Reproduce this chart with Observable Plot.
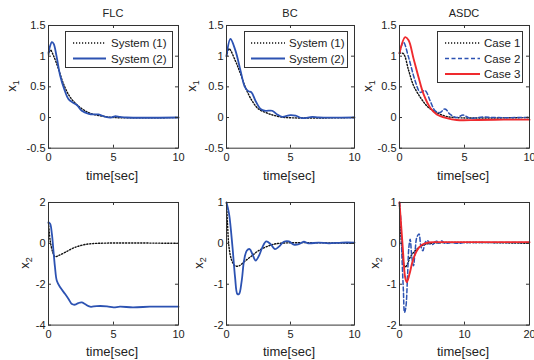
<!DOCTYPE html>
<html><head><meta charset="utf-8">
<script src="https://cdn.jsdelivr.net/npm/d3@7"></script>
<script src="https://cdn.jsdelivr.net/npm/@observablehq/plot@0.6"></script>
<style>
body{margin:0;background:#fff;}
#c{position:relative;width:534px;height:360px;overflow:hidden;background:#fff;font-family:"Liberation Sans",Arial,Helvetica,sans-serif;color:#222;}
.abs{position:absolute;}
.ctr{position:absolute;transform:translate(-50%,-50%);white-space:nowrap;line-height:1;}
.ylab{position:absolute;transform:translate(-50%,-50%) rotate(-90deg);white-space:nowrap;line-height:1;font-size:13px;}
.ylab sub{font-size:9px;vertical-align:-3px;}
</style></head>
<body><div id="c"></div>
<script>
// ---------- data ----------
const titles = ["FLC", "BC", "ASDC"];
const xLabel = "time[sec]";
const legendSystems = ["System (1)", "System (2)"];
const legendCases = ["Case 1", "Case 2", "Case 3"];

const ticksX10 = [0, 5, 10];
const ticksX20 = [0, 10, 20];
const ticksYTop = [-0.5, 0, 0.5, 1, 1.5];
const ticksYFlc2 = [-4, -2, 0, 2];
const ticksYBc2 = [-2, -1, 0, 1];

// FLC x1
const flcX1Sys1T = [0, 0.15, 0.4, 0.77, 1.15, 1.67, 2.4, 3.2, 4.2, 5, 10];
const flcX1Sys1  = [1.02, 1.1, 1.0, 0.79, 0.55, 0.33, 0.17, 0.07, 0.02, 0, 0];
const flcX1Sys2T = [0, 0.1, 0.26, 0.4, 0.6, 0.9, 1.2, 1.54, 1.9, 2.2, 2.56, 3.1, 3.5, 3.85, 4.4, 4.8, 5.1, 5.5, 6, 10];
const flcX1Sys2  = [1.05, 1.15, 1.23, 1.2, 1.02, 0.68, 0.47, 0.3, 0.24, 0.2, 0.11, 0.06, 0.05, 0.05, 0.01, 0.0, 0.02, 0.01, 0, 0];
// BC x1
const bcX1Sys1T = [0, 0.2, 0.7, 1.1, 1.48, 2.0, 2.5, 3.2, 3.8, 4.6, 10];
const bcX1Sys1  = [1.0, 1.12, 0.92, 0.71, 0.49, 0.27, 0.14, 0.07, 0.03, 0.0, 0];
const bcX1Sys2T = [0, 0.31, 0.7, 1.1, 1.43, 1.7, 1.95, 2.27, 2.66, 3.05, 3.57, 3.96, 4.35, 5.0, 5.4, 5.9, 6.7, 7.2, 10];
const bcX1Sys2  = [1.0, 1.28, 1.09, 0.76, 0.5, 0.43, 0.41, 0.27, 0.14, 0.11, 0.11, 0.05, 0.01, 0.04, 0.03, -0.01, 0.01, 0, 0];
// ASDC x1
const asX1C1T = [0, 0.3, 0.7, 1.08, 1.6, 2.1, 2.6, 3.4, 4.2, 10];
const asX1C1  = [1.05, 1.04, 0.77, 0.52, 0.33, 0.19, 0.11, 0.03, 0, 0];
const asX1C2T = [0, 0.3, 0.7, 1.2, 1.6, 1.97, 2.36, 2.74, 3.1, 3.5, 3.9, 4.4, 4.9, 5.4, 6.5, 7.2, 10];
const asX1C2  = [1.05, 1.23, 0.98, 0.6, 0.41, 0.44, 0.27, 0.11, 0.08, 0.14, 0.05, 0, 0.04, -0.01, 0.01, 0, 0];
const asX1C3T = [0, 0.44, 0.7, 1.08, 1.46, 1.85, 2.36, 2.87, 3.64, 4.4, 6, 8, 10];
const asX1C3  = [1.05, 1.31, 1.26, 0.96, 0.66, 0.38, 0.16, 0.05, -0.01, -0.04, -0.04, -0.035, -0.035];
// FLC x2
const flcX2Sys1T = [0, 0.13, 0.33, 0.5, 0.77, 1.28, 1.9, 2.7, 3.7, 10];
const flcX2Sys1  = [1.0, 0.13, -0.44, -0.65, -0.6, -0.44, -0.23, -0.07, 0, 0];
const flcX2Sys2T = [0, 0.13, 0.26, 0.38, 0.5, 0.64, 0.9, 1.28, 1.54, 1.8, 2.05, 2.3, 2.56, 2.8, 3.2, 3.7, 4.5, 5, 5.5, 6.5, 7.8, 8.6, 10];
const flcX2Sys2  = [1.03, 0.95, 0.46, -0.36, -1.17, -1.83, -2.15, -2.48, -2.72, -2.97, -3.0, -2.92, -2.89, -2.97, -3.1, -3.07, -3.08, -3.13, -3.1, -3.13, -3.1, -3.1, -3.1];
// BC x2
const bcX2Sys1T = [0, 0.08, 0.2, 0.41, 0.67, 0.98, 1.5, 2.0, 2.5, 3.3, 4.1, 10];
const bcX2Sys1  = [1.0, 0.47, -0.1, -0.42, -0.55, -0.55, -0.42, -0.3, -0.18, -0.06, 0, 0];
const bcX2Sys2T = [0, 0.2, 0.47, 0.67, 0.85, 0.98, 1.19, 1.37, 1.58, 1.81, 2.02, 2.28, 2.54, 2.8, 3.1, 3.45, 3.78, 4.1, 4.48, 4.87, 5.26, 5.65, 6.04, 6.4, 7.2, 8, 9, 10];
const bcX2Sys2  = [1.0, 0.72, -0.1, -0.83, -1.24, -1.24, -0.91, -0.42, -0.18, -0.14, -0.26, -0.42, -0.3, -0.1, 0.05, -0.02, -0.14, -0.08, 0.04, 0.05, -0.03, -0.02, 0.04, 0, 0.02, 0, 0.02, 0.02];
// ASDC x2
const asX2C1T = [0, 0.1, 0.36, 0.6, 0.87, 1.23, 1.64, 2.4, 3.4, 4.7, 20];
const asX2C1  = [1.0, 0.47, -0.1, -0.46, -0.58, -0.5, -0.34, -0.18, -0.06, 0, 0];
const asX2C2T = [0, 0.2, 0.36, 0.6, 0.77, 0.97, 1.23, 1.44, 1.64, 1.9, 2.15, 2.4, 2.67, 3.0, 3.28, 3.6, 3.95, 4.3, 4.7, 5.2, 5.64, 6, 6.5, 7, 8, 9, 10, 12, 14, 16, 18, 20];
const asX2C2  = [1.0, 0.55, -0.26, -1.16, -1.69, -1.57, -0.83, -0.1, 0.1, -0.34, -0.55, -0.18, 0.15, 0.23, -0.06, -0.18, 0.02, 0.07, -0.02, -0.02, 0.07, 0, 0.06, 0, 0.02, 0, 0.02, 0.02, 0.02, 0.02, 0.02, 0.02];
const asX2C3T = [0, 0.2, 0.5, 0.87, 1.13, 1.54, 2.05, 2.67, 3.4, 4.46, 5.7, 7.8, 20];
const asX2C3  = [1.0, 0.55, -0.1, -0.83, -0.95, -0.75, -0.42, -0.18, -0.04, 0.02, 0.03, 0.03, 0.03];

// ---------- styles ----------
const BLUE = "#2c52b2", RED = "#ef2a2e", BLACK = "#111";
const ST = {
  dot:  {stroke: BLACK, strokeWidth: 1.4, strokeDasharray: "1.2,1.8"},
  blue: {stroke: BLUE, strokeWidth: 1.8},
  dash: {stroke: BLUE, strokeWidth: 1.5, strokeDasharray: "4,2.5"},
  red:  {stroke: RED, strokeWidth: 1.9}
};

const panels = [
  {fx: 48,  fy: 25,    fw: 130, fh: 122.7, xd: [0,10], xt: ticksX10, yd: [-0.5,1.5], yt: ticksYTop, yl: 1, ylx: 13,
   lines: [[flcX1Sys1T, flcX1Sys1, "dot"], [flcX1Sys2T, flcX1Sys2, "blue"]]},
  {fx: 226, fy: 25,    fw: 128, fh: 122.7, xd: [0,10], xt: ticksX10, yd: [-0.5,1.5], yt: ticksYTop, yl: 1, ylx: 193,
   lines: [[bcX1Sys1T, bcX1Sys1, "dot"], [bcX1Sys2T, bcX1Sys2, "blue"]]},
  {fx: 399, fy: 25,    fw: 130, fh: 122.7, xd: [0,10], xt: ticksX10, yd: [-0.5,1.5], yt: ticksYTop, yl: 1, ylx: 369,
   lines: [[asX1C1T, asX1C1, "dot"], [asX1C2T, asX1C2, "dash"], [asX1C3T, asX1C3, "red"]]},
  {fx: 48,  fy: 201.7, fw: 130, fh: 122.6, xd: [0,10], xt: ticksX10, yd: [-4,2], yt: ticksYFlc2, yl: 2, ylx: 26,
   lines: [[flcX2Sys1T, flcX2Sys1, "dot"], [flcX2Sys2T, flcX2Sys2, "blue"]]},
  {fx: 226, fy: 201.7, fw: 128, fh: 122.6, xd: [0,10], xt: ticksX10, yd: [-2,1], yt: ticksYBc2, yl: 2, ylx: 200,
   lines: [[bcX2Sys1T, bcX2Sys1, "dot"], [bcX2Sys2T, bcX2Sys2, "blue"]]},
  {fx: 399, fy: 201.7, fw: 130, fh: 122.6, xd: [0,20], xt: ticksX20, yd: [-2,1], yt: ticksYBc2, yl: 2, ylx: 376,
   lines: [[asX2C1T, asX2C1, "dot"], [asX2C2T, asX2C2, "dash"], [asX2C3T, asX2C3, "red"]]}
];

const root = document.getElementById("c");
const rows = (t, v) => t.map((ti, i) => ({t: ti, v: v[i]}));
const fmt = d => String(d);

function addDiv(cls, html, x, y, css) {
  const d = document.createElement("div");
  d.className = cls; d.innerHTML = html;
  d.style.left = x + "px"; d.style.top = y + "px";
  Object.assign(d.style, css || {});
  root.appendChild(d);
}

panels.forEach((p, i) => {
  const mL = 48, mR = 12, mT = 4, mB = 18;
  const plot = Plot.plot({
    width: mL + p.fw + mR, height: mT + p.fh + mB,
    marginLeft: mL, marginRight: mR, marginTop: mT, marginBottom: mB,
    style: {background: "transparent", fontFamily: "Liberation Sans, Arial, sans-serif", fontSize: "11px", color: "#222", overflow: "visible"},
    x: {domain: p.xd, label: null},
    y: {domain: p.yd, label: null},
    marks: [
      ...p.lines.map(([t, v, s]) => Plot.line(rows(t, v), {x: "t", y: "v", curve: "catmull-rom", ...ST[s]})),
      Plot.frame({stroke: "#333", strokeWidth: 1}),
      Plot.axisX(p.xt, {tickSize: 0, tickPadding: 5, tickFormat: fmt, label: null}),
      Plot.axisY(p.yt, {tickSize: 0, tickPadding: 3, tickFormat: fmt, label: null}),
      Plot.tickX(p.xt, {x: d => d, insetTop: p.fh - 3, stroke: "#333"}),
      Plot.tickX(p.xt, {x: d => d, insetBottom: p.fh - 3, stroke: "#333"}),
      Plot.tickY(p.yt, {y: d => d, insetLeft: p.fw - 3, stroke: "#333"}),
      Plot.tickY(p.yt, {y: d => d, insetRight: p.fw - 3, stroke: "#333"})
    ]
  });
  plot.style.position = "absolute";
  plot.style.left = (p.fx - mL) + "px";
  plot.style.top = (p.fy - mT) + "px";
  root.appendChild(plot);

  const cx = p.fx + p.fw / 2;
  if (i < 3) addDiv("ctr", titles[i], cx, 13, {fontSize: "11px"});
  addDiv("ctr", xLabel, cx - 1, p.fy + p.fh + 27, {fontSize: "13px"});
  addDiv("ylab", `x<sub>${p.yl}</sub>`, p.ylx, p.fy + p.fh / 2);
});

// ---------- legends ----------
function legend(x, y, w, labels, styles, lineX0, lineX1, textX) {
  const h = labels.length === 2 ? 37 : 52;
  const ns = "http://www.w3.org/2000/svg";
  const svg = d3.create("svg").attr("width", w).attr("height", h)
    .style("position", "absolute").style("left", x + "px").style("top", y + "px").style("overflow", "visible");
  svg.append("rect").attr("x", 0.5).attr("y", 0.5).attr("width", w - 1).attr("height", h - 1)
    .attr("fill", "#fff").attr("stroke", "#333");
  labels.forEach((lab, k) => {
    const ry = 12 + k * 15.5;
    const s = ST[styles[k]];
    svg.append("line").attr("x1", lineX0).attr("x2", lineX1).attr("y1", ry).attr("y2", ry)
      .attr("stroke", s.stroke).attr("stroke-width", s.strokeWidth).attr("stroke-dasharray", s.strokeDasharray || null);
    svg.append("text").attr("x", textX).attr("y", ry).attr("dy", "0.36em")
      .attr("font-size", 11.5).attr("fill", "#222")
      .attr("font-family", "Liberation Sans, Arial, sans-serif").text(lab);
  });
  root.appendChild(svg.node());
}
legend(65, 31, 108, legendSystems, ["dot", "blue"], 8, 41, 46);
legend(244, 31, 104, legendSystems, ["dot", "blue"], 7, 41, 45);
legend(437, 31, 86, legendCases, ["dot", "dash", "red"], 8, 43, 47);
</script>
</body></html>
